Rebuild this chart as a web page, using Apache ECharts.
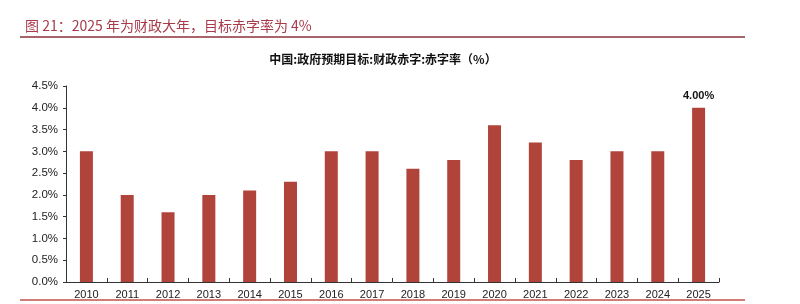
<!DOCTYPE html>
<html><head><meta charset="utf-8">
<script src="https://cdn.jsdelivr.net/npm/echarts@6/dist/echarts.min.js"></script>
<style>html,body{margin:0;padding:0;background:#fff}#c{width:800px;height:304px}</style>
</head><body><div id="c"></div>
<script>
const categories = ['2010','2011','2012','2013','2014','2015','2016','2017','2018','2019','2020','2021','2022','2023','2024','2025'];
const deficitRate = [3.0,2.0,1.6,2.0,2.1,2.3,3.0,3.0,2.6,2.8,3.6,3.2,2.8,3.0,3.0,4.0];
const yTicks = [0,0.5,1,1.5,2,2.5,3,3.5,4,4.5];
const figTitle = '图 21：2025 年为财政大年，目标赤字率为 4%';
const chartTitle = '中国:政府预期目标:财政赤字:赤字率（%）';

const chart = echarts.init(document.getElementById('c'), null, {renderer:'canvas'});
chart.setOption({
  animation:false,
  title:[
    {text:figTitle,left:20,top:14,textStyle:{fontFamily:'Noto Sans CJK SC',fontSize:14,fontWeight:'normal',color:'#a83a4a'}},
    {text:chartTitle,left:378,top:48,textAlign:'center',textStyle:{fontFamily:'Noto Sans CJK SC',fontSize:12,fontWeight:'bold',color:'#111'}}
  ],
  graphic:[
    {type:'line',shape:{x1:20,y1:37,x2:745,y2:37},style:{stroke:'#8a3038',lineWidth:1.5}},
    {type:'line',shape:{x1:20,y1:300,x2:745,y2:300},style:{stroke:'#c0504d',lineWidth:1.5}}
  ],
  grid:{left:66,right:81,top:86,bottom:22,containLabel:false},
  xAxis:{type:'category',data:categories,
    axisLine:{lineStyle:{color:'#333',width:1}},
    axisTick:{show:true,inside:true,length:4,lineStyle:{color:'#333'}},
    axisLabel:{color:'#222',fontSize:11,fontFamily:'Liberation Sans',margin:7}},
  yAxis:{type:'value',min:0,max:4.5,interval:0.5,
    axisLine:{show:true,lineStyle:{color:'#333',width:1}},
    axisTick:{show:true,length:3,lineStyle:{color:'#333'}},
    splitLine:{show:false},
    axisLabel:{color:'#222',fontSize:11.5,fontFamily:'Liberation Sans',margin:8,
      formatter:v=>v.toFixed(1)+'%'}},
  series:[{type:'bar',data:deficitRate.map((v,i)=>({value:v,label:{show:i===deficitRate.length-1}})),
    barWidth:13,itemStyle:{color:'#b0433a'},
    label:{position:'top',distance:6,fontSize:11,fontWeight:'bold',color:'#111',fontFamily:'Liberation Sans',
      formatter:p=>p.value.toFixed(2)+'%'}}]
});
</script></body></html>
